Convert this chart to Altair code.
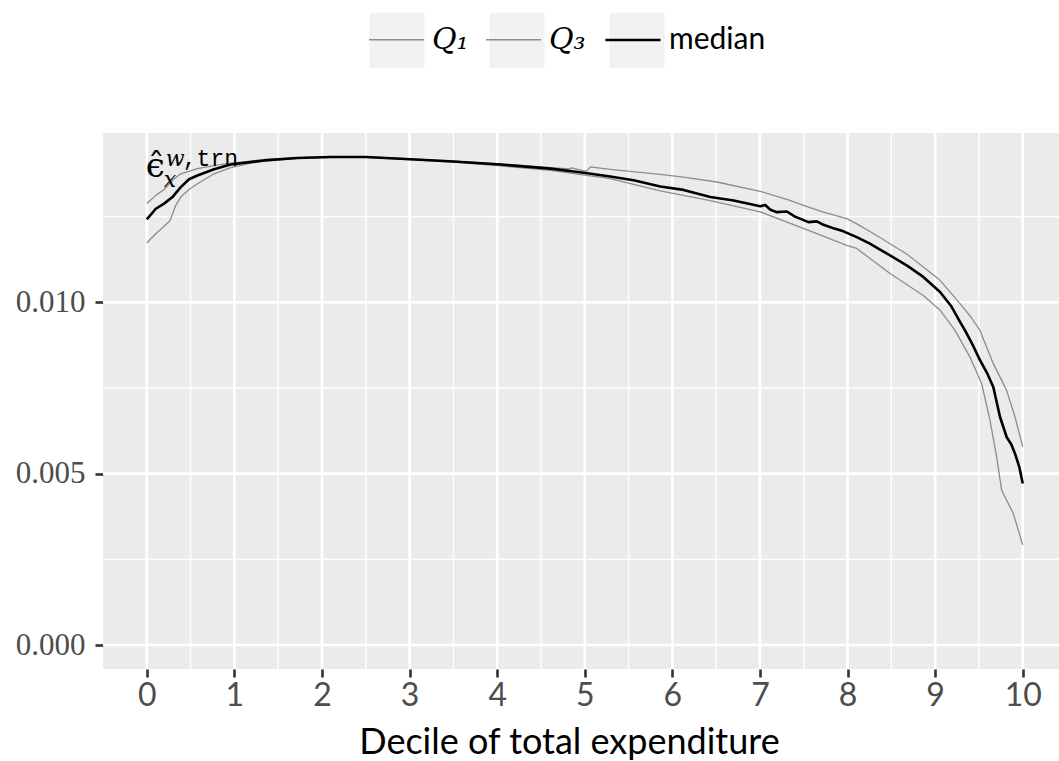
import altair as alt
import pandas as pd

# ---------------- data ----------------
series_names = ["Q1", "Q3", "median"]
key_names = ["k_Q1", "k_Q3", "k_median"]
line_colors = ["#8C8C8C", "#8C8C8C", "#000000"]
line_widths = [1.3, 1.3, 2.6]

q1_x = [0, 0.103, 0.197, 0.25, 0.27, 0.33, 0.388, 0.482, 0.578, 0.768, 0.958, 1.148, 1.338, 1.719,
        2.098, 2.5, 2.897, 3.5, 4.037, 4.608, 5.29, 5.862, 6.433, 7.003, 7.554, 7.991, 8.105, 8.485,
        8.865, 9.056, 9.227, 9.398, 9.531, 9.626, 9.702, 9.759, 9.892, 10.0]
q1_v = [0.01173, 0.01200, 0.01222, 0.01234, 0.01241, 0.01283, 0.01307, 0.01329, 0.01346, 0.01375,
        0.01393, 0.01404, 0.01412, 0.01420, 0.01423, 0.01423, 0.01418, 0.01409, 0.01398, 0.01385,
        0.01361, 0.01325, 0.01297, 0.01264, 0.01210, 0.01166, 0.01157, 0.01084, 0.01020, 0.00977,
        0.00918, 0.00840, 0.00763, 0.00656, 0.00549, 0.00452, 0.00384, 0.00292]

q3_x = [0, 0.103, 0.197, 0.293, 0.388, 0.578, 0.768, 0.958, 1.338, 1.719, 2.098, 2.5, 2.897, 3.5,
        4.037, 4.608, 4.82, 4.85, 5.0, 5.03, 5.064, 5.29, 5.862, 6.128, 6.509, 7.003, 7.307, 7.497,
        7.725, 7.991, 8.105, 8.3, 8.485, 8.68, 8.865, 9.056, 9.284, 9.4, 9.512, 9.664, 9.816, 9.911, 10.0]
q3_v = [0.01288, 0.01312, 0.01329, 0.01356, 0.01375, 0.01390, 0.01399, 0.01406, 0.01416, 0.01422,
        0.01425, 0.01425, 0.01420, 0.01412, 0.01404, 0.01393, 0.01389, 0.01392, 0.01383, 0.01385,
        0.01395, 0.01388, 0.01373, 0.01365, 0.01351, 0.01324, 0.01300, 0.01283, 0.01263, 0.01244,
        0.01229, 0.01200, 0.01171, 0.01140, 0.01103, 0.01064, 0.00996, 0.00960, 0.00918, 0.00821,
        0.00743, 0.00666, 0.00578]

med_x = [0, 0.103, 0.197, 0.293, 0.388, 0.482, 0.578, 0.768, 0.958, 1.338, 1.719, 2.098, 2.5, 2.897,
         3.5, 4.037, 4.608, 4.988, 5.29, 5.558, 5.862, 6.128, 6.433, 6.7, 7.003, 7.06, 7.12, 7.193,
         7.307, 7.4, 7.554, 7.65, 7.725, 7.85, 7.953, 8.105, 8.25, 8.371, 8.485, 8.68, 8.865, 9.056,
         9.18, 9.284, 9.341, 9.43, 9.512, 9.59, 9.664, 9.74, 9.816, 9.87, 9.911, 9.96, 10.0]
med_v = [0.01242, 0.01273, 0.01288, 0.01307, 0.01336, 0.01359, 0.01370, 0.01388, 0.01402, 0.01414,
         0.01421, 0.01424, 0.01424, 0.01419, 0.01411, 0.01402, 0.01390, 0.01378, 0.01367, 0.01356,
         0.01338, 0.01328, 0.01307, 0.01297, 0.01280, 0.01284, 0.01270, 0.01263, 0.01265, 0.01250,
         0.01234, 0.01236, 0.01226, 0.01215, 0.01207, 0.01190, 0.01172, 0.01154, 0.01137, 0.01107,
         0.01074, 0.01030, 0.00990, 0.00943, 0.00918, 0.00875, 0.00831, 0.00795, 0.00753, 0.00666,
         0.00607, 0.00585, 0.00559, 0.00520, 0.00471]

x_major = list(range(0, 11))
x_minor = [0.5, 1.5, 2.5, 3.5, 4.5, 5.5, 6.5, 7.5, 8.5, 9.5]
y_major = [0.0, 0.005, 0.010]
y_minor = [0.0025, 0.0075, 0.0125]

ann_x = [0]
ann_v = [0.01367]

x_title = "Decile of total expenditure"

# ---------------- frames ----------------
rows = []
for name, key, xs, vs in [("Q1", "k_Q1", q1_x, q1_v), ("Q3", "k_Q3", q3_x, q3_v),
                          ("median", "k_median", med_x, med_v)]:
    for xx, vv in zip(xs, vs):
        rows.append({"x": xx, "v": vv, "series": name, "key": key})
df = pd.DataFrame(rows)

df_xmaj = pd.DataFrame({"x": x_major})
df_xmin = pd.DataFrame({"x": x_minor})
df_ymaj = pd.DataFrame({"v": y_major})
df_ymin = pd.DataFrame({"v": y_minor})
df_ann = pd.DataFrame({"x": ann_x, "v": ann_v})

xscale = alt.Scale(domain=[-0.5, 10.414], nice=False, zero=False)
yscale = alt.Scale(domain=[-0.0007, 0.01494], nice=False, zero=False)

x_axis = alt.Axis(values=x_major, title=x_title, grid=False, domain=False,
                  labelFont="Lato", labelFontSize=32, labelColor="#4D4D4D",
                  labelPadding=3, tickColor="#333333", tickWidth=2.6, tickSize=8,
                  titleFont="Lato", titleFontSize=36, titleColor="black",
                  titleFontWeight="normal", titleX=466, titleY=84,
                  titleBaseline="alphabetic", titleAlign="center")
y_axis = alt.Axis(values=y_major, format=".3f", title=None, grid=False, domain=False,
                  labelFont="Liberation Serif", labelFontSize=31, labelColor="#4D4D4D",
                  labelPadding=10, tickColor="#333333", tickWidth=2.6, tickSize=8)

X = alt.X("x:Q", scale=xscale, axis=x_axis)
Y = alt.Y("v:Q", scale=yscale, axis=y_axis)

label_expr = ("indexof(['Q1','k_Q1'], datum.value) >= 0 ? 'Q\u2081' : "
              "(indexof(['Q3','k_Q3'], datum.value) >= 0 ? 'Q\u2083' : 'median')")
font_expr = {"expr": "indexof(['median','k_median'], datum.value) >= 0 ? 'Lato' : 'DejaVu Serif'"}
style_expr = {"expr": "indexof(['median','k_median'], datum.value) >= 0 ? 'normal' : 'italic'"}

common_legend = dict(
    orient="none", legendX=265, legendY=-122, direction="horizontal", title=None,
    labelFontSize=30, labelExpr=label_expr, labelFont=font_expr, labelFontStyle=style_expr,
    symbolSize=3025, labelOffset=7, columnPadding=14, padding=0, labelLimit=300,
)

# legend key backgrounds (grey boxes)
keys = alt.Chart(df).mark_square(size=0).encode(
    x=X, y=Y,
    fill=alt.Fill("key:N", scale=alt.Scale(domain=key_names, range=["#F2F2F2"] * 3),
                  legend=alt.Legend(symbolType="square", symbolStrokeWidth=2.6,
                                    symbolStrokeColor="transparent",
                                    symbolOpacity=1, labelOpacity=0, **common_legend)),
)

grid_xmin = alt.Chart(df_xmin).mark_rule(color="white", strokeWidth=1.3).encode(x=X)
grid_ymin = alt.Chart(df_ymin).mark_rule(color="white", strokeWidth=1.3).encode(y=Y)
grid_xmaj = alt.Chart(df_xmaj).mark_rule(color="white", strokeWidth=2.6).encode(x=X)
grid_ymaj = alt.Chart(df_ymaj).mark_rule(color="white", strokeWidth=2.6).encode(y=Y)

lines = alt.Chart(df).mark_line(strokeJoin="round").encode(
    x=X, y=Y,
    stroke=alt.Stroke("series:N", scale=alt.Scale(domain=series_names, range=line_colors),
                      legend=alt.Legend(symbolType="stroke", **common_legend)),
    strokeWidth=alt.StrokeWidth("series:N",
                                scale=alt.Scale(type="ordinal", domain=series_names, range=line_widths),
                                legend=alt.Legend(symbolType="stroke", **common_legend)),
)

ann_base = alt.Chart(df_ann).encode(x=X, y=Y)
ann_eps = ann_base.mark_text(text="\u03f5\u0302", font="DejaVu Serif", fontSize=34,
                             align="left", baseline="alphabetic", dx=-1, dy=0, color="black")
ann_w = ann_base.mark_text(text="w", font="DejaVu Serif", fontStyle="italic", fontSize=22,
                           align="left", baseline="alphabetic", dx=19, dy=-11, color="black")
ann_trn = ann_base.mark_text(text=",trn", font="Liberation Mono", fontSize=23,
                             align="left", baseline="alphabetic", dx=36, dy=-11, color="black")
ann_sub = ann_base.mark_text(text="x", font="DejaVu Serif", fontStyle="italic", fontSize=22,
                             align="left", baseline="alphabetic", dx=17, dy=10, color="black")

chart = alt.layer(
    keys, grid_xmin, grid_ymin, grid_xmaj, grid_ymaj, lines, ann_eps, ann_w, ann_trn, ann_sub
).properties(
    width=956, height=536,
    autosize=alt.AutoSizeParams(type="none"),
    padding={"left": 103, "top": 133, "right": 0, "bottom": 92},
    background="white",
).configure_view(
    fill="#EBEBEB", strokeWidth=0
)

chart.save("out.html", embed_options={"renderer": "svg", "actions": False})
